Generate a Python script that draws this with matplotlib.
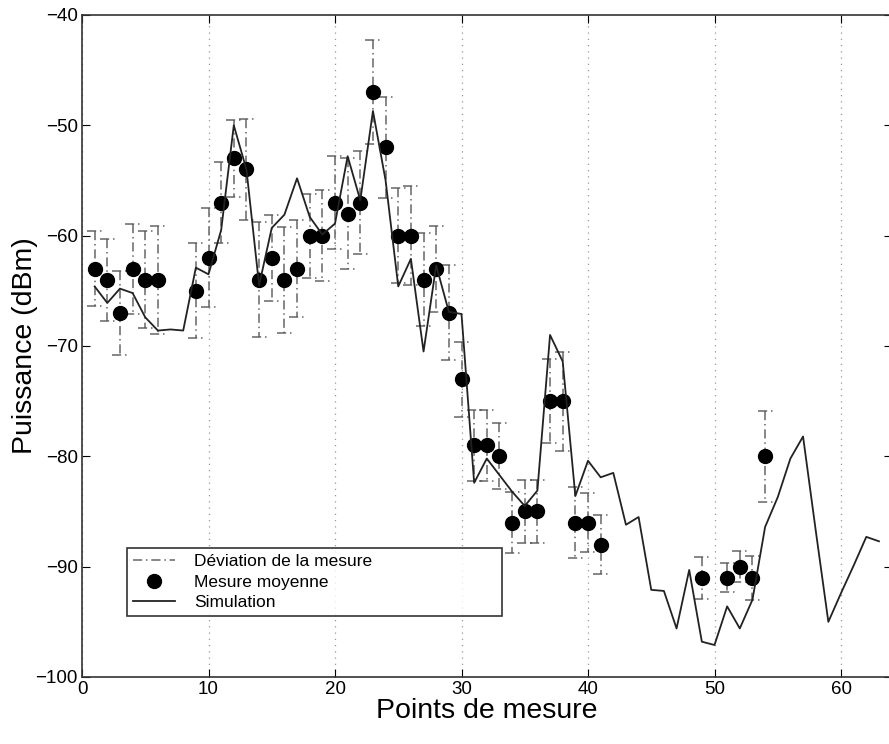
import numpy as np
import matplotlib
matplotlib.use("Agg")
import matplotlib.pyplot as plt

plt.rcParams['font.family'] = ['Liberation Sans', 'DejaVu Sans']

# mesures moyennes + deviation (symetrique)
x_mes = [1, 2, 3, 4, 5, 6, 9, 10, 11, 12, 13, 14, 15, 16, 17, 18, 19, 20, 21, 22,
         23, 24, 25, 26, 27, 28, 29, 30, 31, 32, 33, 34, 35, 36, 37, 38, 39, 40, 41,
         49, 51, 52, 53, 54]
y_mes = [-63, -64, -67, -63, -64, -64, -65, -62, -57, -53, -54, -64, -62, -64, -63,
         -60, -60, -57, -58, -57, -47, -52, -60, -60, -64, -63, -67, -73, -79, -79,
         -80, -86, -85, -85, -75, -75, -86, -86, -88, -91, -91, -90, -91, -80]
dev = [3.4, 3.7, 3.8, 4.1, 4.4, 4.9, 4.3, 4.5, 3.7, 3.5, 4.6, 5.2, 3.9, 4.8, 4.4,
       3.8, 4.1, 4.2, 5.0, 4.7, 4.7, 4.6, 4.3, 4.5, 4.2, 3.9, 4.3, 3.4, 3.2, 3.2,
       3.0, 2.8, 2.9, 2.9, 3.8, 4.5, 3.2, 2.7, 2.7, 1.9, 1.3, 1.4, 2.0, 4.1]

# simulation
x_sim = list(range(1, 64))
y_sim = [-64.6, -66.1, -64.8, -65.2, -67.4, -68.6, -68.5, -68.6, -62.9, -63.5,
         -59.5, -50.0, -54.0, -64.5, -59.3, -58.1, -54.8, -58.3, -59.9, -58.9,
         -52.8, -56.8, -48.7, -55.0, -64.6, -62.1, -70.5, -62.7, -66.9, -67.1,
         -82.4, -80.2, -81.7, -83.2, -84.5, -83.1, -69.0, -71.4, -83.6, -80.4,
         -81.9, -81.5, -86.2, -85.5, -92.1, -92.2, -95.6, -90.3, -96.8, -97.1,
         -93.6, -95.6, -93.0, -86.4, -83.7, -80.2, -78.2, -86.7, -95.0, -92.4,
         -89.9, -87.3, -87.7]

xm = np.array(x_mes, dtype=float)
ym = np.array(y_mes, dtype=float)
dv = np.array(dev, dtype=float)
w = 0.6

# chemin des barres d'erreur (vertical + 2 chapeaux), separes par NaN
bx, by = [], []
for xi, yi, di in zip(xm, ym, dv):
    bx += [xi - w, xi + w, np.nan, xi, xi, np.nan, xi - w, xi + w, np.nan]
    by += [yi + di, yi + di, np.nan, yi + di, yi - di, np.nan, yi - di, yi - di, np.nan]

fig = plt.figure(figsize=(8.89, 7.44), dpi=100)
ax = fig.add_axes([82 / 889, 67 / 744, 809.6 / 889, 662 / 744])

dashdot = (0, (6, 2.5, 1, 2.5))
ax.plot(bx, by, color='#666666', lw=1.1, linestyle=dashdot,
        label='Déviation de la mesure')
ax.plot(xm, ym, 'o', color='black', markersize=10, label='Mesure moyenne')
ax.plot(x_sim, y_sim, '-', color='#222222', lw=1.3, label='Simulation')

ax.set_xlim(0, 64)
ax.set_ylim(-100, -40)
ax.set_xticks(np.arange(0, 61, 10))
ax.set_yticks(np.arange(-100, -39, 10))
ax.xaxis.grid(True, linestyle=(0, (1, 4)), color='#999999', lw=0.9)
ax.tick_params(direction='in', top=True, right=True, length=6, labelsize=13.5, pad=3)
for s in ax.spines.values():
    s.set_linewidth(1.2)
    s.set_color('#333333')

ax.set_xlabel('Points de mesure', fontsize=20.5, labelpad=0)
ax.set_ylabel('Puissance (dBm)', fontsize=20.5, labelpad=-2)

leg = ax.legend(loc='lower left', bbox_to_anchor=(0.0556, 0.0921, 0.4634, 0.1028),
                mode='expand', fontsize=12.5, frameon=True, fancybox=False,
                borderpad=0.35, labelspacing=0.3, handlelength=2.4,
                handletextpad=1.1, borderaxespad=0)
leg.get_frame().set_edgecolor('black')
leg.get_frame().set_linewidth(1.2)

fig.savefig('out.png', dpi=100)
